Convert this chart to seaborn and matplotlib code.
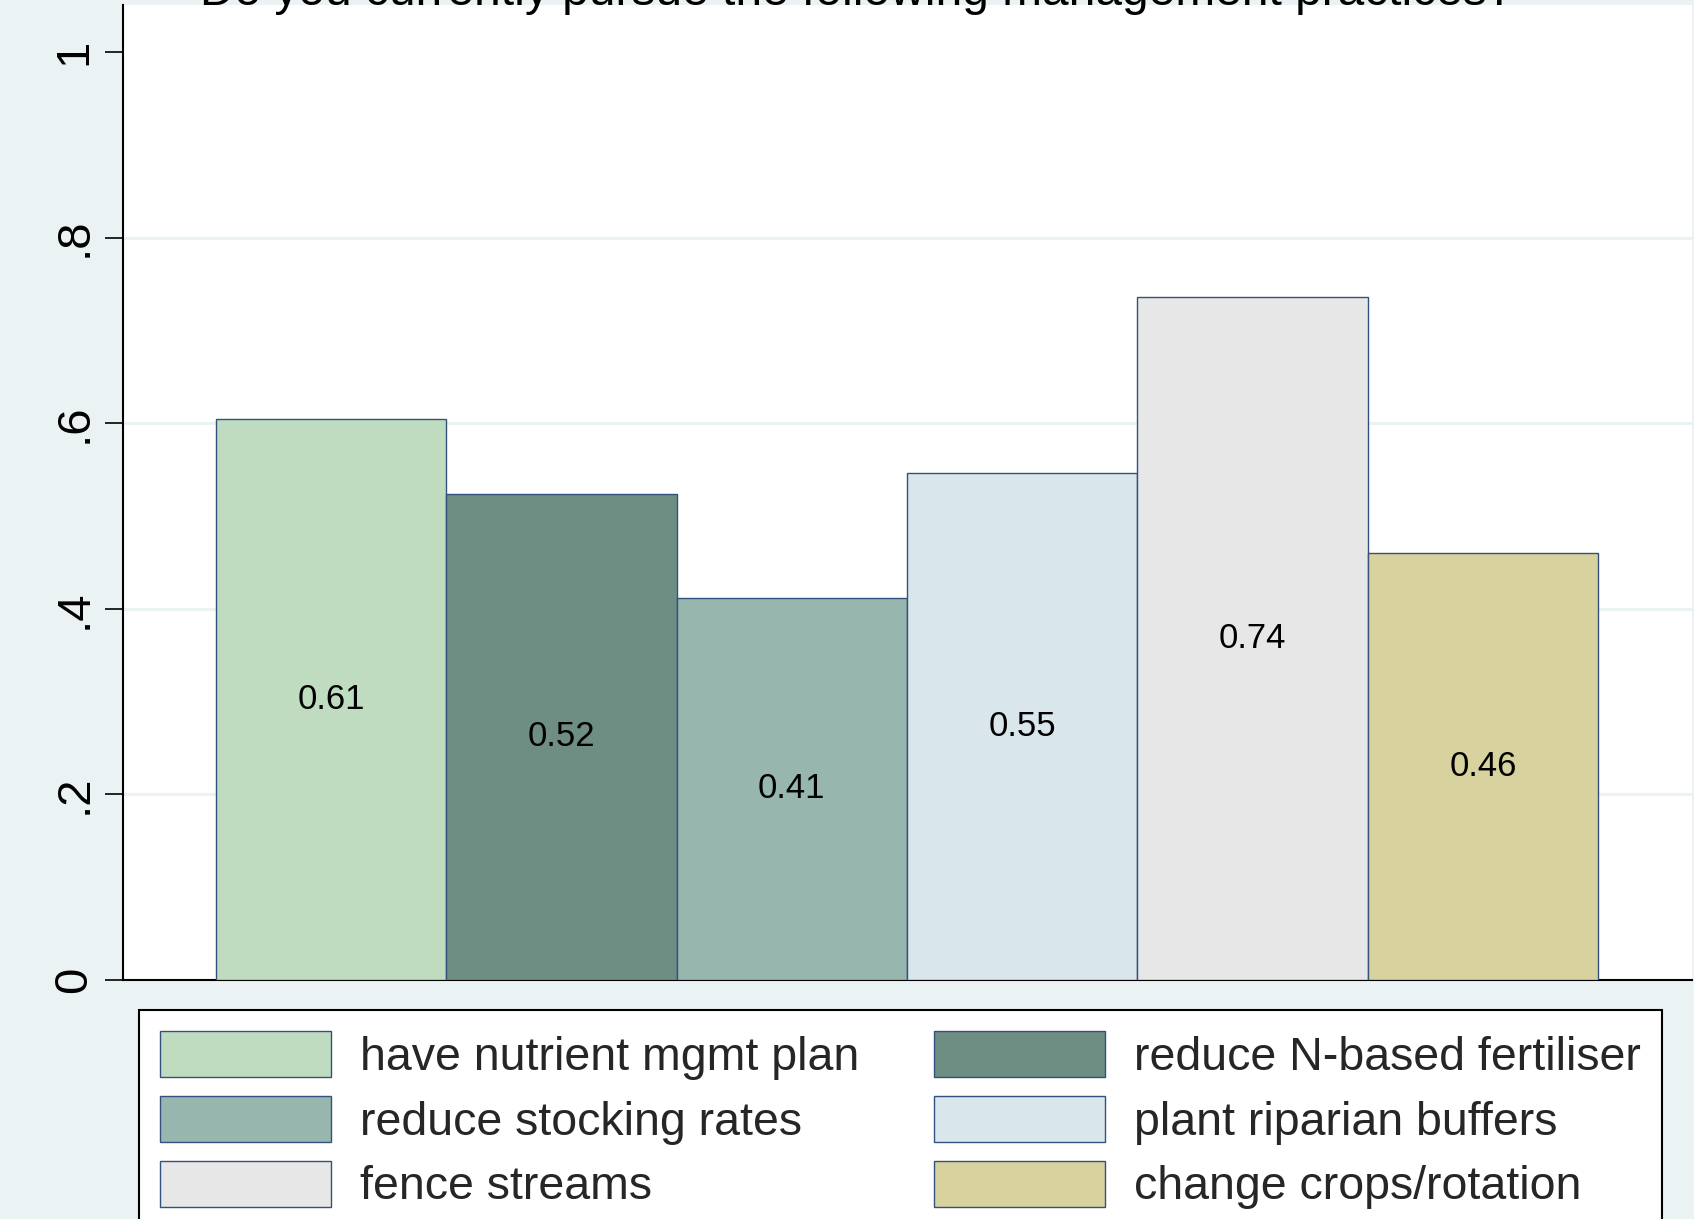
import matplotlib
matplotlib.use("Agg")
import matplotlib.pyplot as plt
from matplotlib.patches import Patch
import seaborn as sns
import pandas as pd

# ---- data ----
categories = ["have nutrient mgmt plan", "reduce N-based fertiliser", "reduce stocking rates",
              "plant riparian buffers", "fence streams", "change crops/rotation"]
values = [0.605, 0.524, 0.412, 0.546, 0.736, 0.460]
value_labels = ["0.61", "0.52", "0.41", "0.55", "0.74", "0.46"]
colors = ["#C0DCC0", "#6E8E84", "#96B6AE", "#D9E6EB", "#E7E7E7", "#D7D29E"]
yticks = [0, 0.2, 0.4, 0.6, 0.8, 1.0]
ytick_labels = ["0", ".2", ".4", ".6", ".8", "1"]
title = "Do you currently pursue the following management practices?"

BG = "#EAF2F3"
EDGE = "#34507F"
FONT = ["Liberation Sans", "DejaVu Sans"]

sns.set_theme(style="white")
plt.rcParams["font.family"] = FONT

W, H = 1694, 1219
fig = plt.figure(figsize=(W / 100, H / 100), dpi=100)
fig.patch.set_facecolor(BG)

ax = fig.add_axes([123 / W, 1 - 980 / H, (1692 - 123) / W, (980 - 5) / H])
ax.set_facecolor("white")

df = pd.DataFrame({"cat": categories, "val": values})
sns.barplot(data=df, x="cat", y="val", hue="cat", order=categories, hue_order=categories,
            palette=colors, width=1.0, dodge=False, legend=False, saturation=1,
            edgecolor=EDGE, linewidth=1.0, ax=ax, zorder=3)

for cont, lab in zip(ax.containers, value_labels):
    ax.bar_label(cont, labels=[lab], label_type="center", fontsize=25, color="black",
                 family=FONT)

ax.set_xlim(-0.904, 5.908)
ax.set_ylim(0, 1.0506)
ax.set_xticks([])
ax.set_xlabel("")
ax.set_ylabel("")
ax.set_yticks(yticks)
ax.set_yticklabels(ytick_labels)
ax.tick_params(axis="y", length=13, width=1.2, color="black", pad=6,
               labelsize=34, labelcolor="black", left=True, direction="out")
for t in ax.get_yticklabels():
    t.set_rotation(90)
    t.set_va("center")
    t.set_ha("right")

ax.grid(axis="y", color=BG, linewidth=2.2, zorder=0)
ax.set_axisbelow(True)
gl = ax.get_ygridlines()
gl[0].set_visible(False)
gl[-1].set_visible(False)

for s in ["top", "right"]:
    ax.spines[s].set_visible(False)
for s in ["left", "bottom"]:
    ax.spines[s].set_color("black")
    ax.spines[s].set_linewidth(1.5)

fig.text(857 / W, 1 - 5 / H, title, ha="center", va="baseline", fontsize=34.5,
         color="black", zorder=10)

handles = [Patch(facecolor=c, edgecolor=EDGE, linewidth=1.0) for c in colors]
order = [0, 2, 4, 1, 3, 5]
leg = fig.legend([handles[i] for i in order], [categories[i] for i in order],
                 loc="upper left", bbox_to_anchor=(139 / W, 1 - 1010 / H),
                 ncol=2, fontsize=33.5, handlelength=3.68, handleheight=1.145,
                 handletextpad=0.62, columnspacing=1.6, labelspacing=0.345,
                 borderpad=0.45, borderaxespad=0, frameon=True, fancybox=False,
                 framealpha=1, edgecolor="black", facecolor="white")
leg.get_frame().set_linewidth(1.5)

fig.savefig("out.png", dpi=100, facecolor=BG)
